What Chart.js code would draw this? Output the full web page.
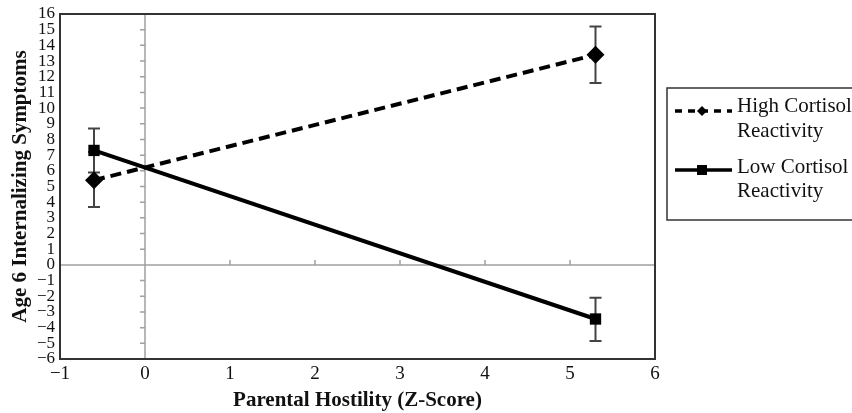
<!DOCTYPE html>
<html>
<head>
<meta charset="utf-8">
<script src="https://cdn.jsdelivr.net/npm/chart.js@4/dist/chart.umd.min.js"></script>
<style>
  html, body { margin: 0; padding: 0; background: #fff; }
</style>
</head>
<body>
<canvas id="myChart" width="852" height="413"></canvas>
<script>
// values
var xValues = [-0.6, 5.3];
var highCortisol = [5.4, 13.4];
var highErrLow = [3.7, 11.6];
var highErrHigh = [7.2, 15.2];
var lowCortisol = [7.3, -3.45];
var lowErrLow = [5.9, -4.85];
var lowErrHigh = [8.7, -2.1];
var seriesLabels = [['High Cortisol', 'Reactivity'], ['Low Cortisol', 'Reactivity']];

var serif = "'Liberation Serif', 'Times New Roman', serif";

function pts(ys) {
    return xValues.map(function (x, i) { return {x: x, y: ys[i]}; });
}
function minus(v) {
    return String(v).replace('-', '\u2212');
}

var decor = {
    id: 'decor',
    beforeDatasetsDraw: function (chart) {
        var c = chart.ctx, a = chart.chartArea;
        var xs = chart.scales.x, ys = chart.scales.y;
        var x0 = xs.getPixelForValue(0), y0 = ys.getPixelForValue(0);
        c.save();
        c.strokeStyle = '#a0a0a0';
        c.lineWidth = 1.5;
        c.beginPath();
        c.moveTo(x0, a.top); c.lineTo(x0, a.bottom);
        c.moveTo(a.left, y0); c.lineTo(a.right, y0);
        // small ticks on the zero lines
        ys.ticks.forEach(function (t) {
            var py = ys.getPixelForValue(t.value);
            c.moveTo(x0 - 5, py); c.lineTo(x0, py);
        });
        xs.ticks.forEach(function (t) {
            var px = xs.getPixelForValue(t.value);
            c.moveTo(px, y0 - 5); c.lineTo(px, y0);
        });
        c.stroke();

        // error bars
        c.strokeStyle = '#444';
        c.lineWidth = 2;
        [[highErrLow, highErrHigh], [lowErrLow, lowErrHigh]].forEach(function (e) {
            xValues.forEach(function (x, i) {
                var px = xs.getPixelForValue(x);
                var lo = ys.getPixelForValue(e[0][i]), hi = ys.getPixelForValue(e[1][i]);
                c.beginPath();
                c.moveTo(px, lo); c.lineTo(px, hi);
                c.moveTo(px - 6, lo); c.lineTo(px + 6, lo);
                c.moveTo(px - 6, hi); c.lineTo(px + 6, hi);
                c.stroke();
            });
        });
        c.restore();
    },
    afterDraw: function (chart) {
        var c = chart.ctx, a = chart.chartArea;
        c.save();
        c.strokeStyle = '#333';
        c.lineWidth = 2;
        c.strokeRect(a.left, a.top, a.right - a.left, a.bottom - a.top);

        // legend
        c.lineWidth = 1.5;
        c.strokeRect(667, 88, 200, 132);
        c.font = '21px ' + serif;
        c.textBaseline = 'alphabetic';
        var textRows = [[112, 137], [173, 197]];
        var lineRows = [111, 170];
        lineRows.forEach(function (y, k) {
            c.fillStyle = '#111';
            c.fillText(seriesLabels[k][0], 737, textRows[k][0]);
            c.fillText(seriesLabels[k][1], 737, textRows[k][1]);
            c.strokeStyle = '#000';
            c.lineWidth = 3.5;
            c.setLineDash(k === 0 ? [7, 6] : []);
            c.beginPath();
            c.moveTo(675, y); c.lineTo(732, y);
            c.stroke();
            c.setLineDash([]);
            c.fillStyle = '#000';
            if (k === 0) {
                c.beginPath();
                c.moveTo(702, y - 5); c.lineTo(707, y); c.lineTo(702, y + 5); c.lineTo(697, y);
                c.closePath(); c.fill();
            } else {
                c.fillRect(697, y - 5, 10, 10);
            }
        });
        c.restore();
    }
};

var ctx = document.getElementById('myChart');
var myChart = new Chart(ctx, {
    type: 'scatter',
    data: {
        datasets: [{
            label: 'High Cortisol Reactivity',
            data: pts(highCortisol),
            showLine: true,
            borderColor: '#000',
            backgroundColor: '#000',
            borderWidth: 4,
            borderDash: [11, 6],
            pointStyle: 'rectRot',
            pointRadius: 9,
            pointBorderWidth: 0,
            pointBackgroundColor: '#000'
        }, {
            label: 'Low Cortisol Reactivity',
            data: pts(lowCortisol),
            showLine: true,
            borderColor: '#000',
            backgroundColor: '#000',
            borderWidth: 4,
            pointStyle: 'rect',
            pointRadius: 8,
            pointBorderWidth: 0,
            pointBackgroundColor: '#000'
        }]
    },
    plugins: [decor],
    options: {
        responsive: false,
        animation: false,
        layout: { padding: { top: 14, right: 197, left: 0, bottom: 0 } },
        plugins: {
            legend: { display: false },
            tooltip: { enabled: false }
        },
        scales: {
            x: {
                type: 'linear',
                min: -1,
                max: 6,
                afterFit: function (s) { s.height = 54; },
                border: { display: false },
                grid: { display: false, drawTicks: false },
                ticks: {
                    stepSize: 1,
                    padding: 4,
                    color: '#111',
                    font: { family: serif, size: 19 },
                    callback: function (v) { return minus(v); }
                },
                title: {
                    display: true,
                    text: 'Parental Hostility (Z-Score)',
                    color: '#111',
                    padding: { top: 0, bottom: 0 },
                    font: { family: serif, size: 21, weight: 'bold' }
                }
            },
            y: {
                type: 'linear',
                min: -6,
                max: 16,
                afterFit: function (s) { s.width = 60; },
                border: { display: false },
                grid: { display: false, drawTicks: false },
                ticks: {
                    stepSize: 1,
                    autoSkip: false,
                    padding: 5,
                    color: '#111',
                    font: { family: serif, size: 17, lineHeight: 1 },
                    callback: function (v) { return minus(v); }
                },
                title: {
                    display: true,
                    text: 'Age 6 Internalizing Symptoms',
                    color: '#111',
                    padding: { top: 8, bottom: 0 },
                    font: { family: serif, size: 21, weight: 'bold' }
                }
            }
        }
    }
});
</script>
</body>
</html>
